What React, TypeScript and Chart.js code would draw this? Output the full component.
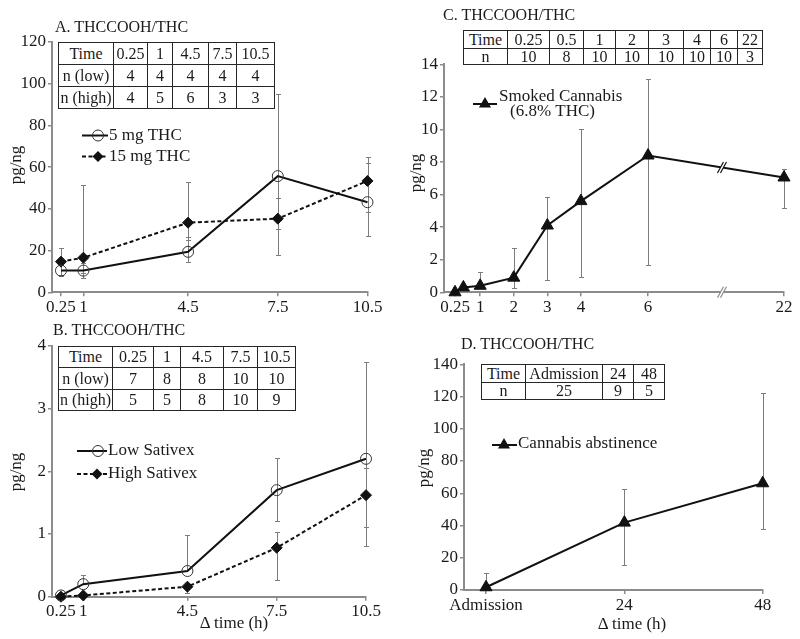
import React, { useEffect, useRef } from "react";
import { Chart, registerables } from "chart.js";

Chart.register(...registerables);

const SERIF = "'Liberation Serif', 'Times New Roman', Times, serif";
const AXIS_COLOR = "#8c8c8c";
const ERR_COLOR = "#7c7c7c";
const INK = "#1a1a1a";

// ---------------- Panel A data ----------------
const aTimes = [0.25, 1, 4.5, 7.5, 10.5];
const aTickLabels = ["0.25", "1", "4.5", "7.5", "10.5"];
const a5mg = [10.4, 10.4, 19.4, 55.7, 43.2];
const a5mgLo = [7.8, 6.7, 14.7, 17.9, 27.0];
const a5mgHi = [13.0, 14.0, 26.7, 95.0, 61.9];
const a15mg = [14.7, 16.6, 33.4, 35.3, 53.4];
const a15mgLo = [8.5, 9.4, 25.0, 30.2, 38.4];
const a15mgHi = [21.1, 51.5, 53.0, 45.0, 64.8];
const aTable = [
  ["Time", "0.25", "1", "4.5", "7.5", "10.5"],
  ["n (low)", "4", "4", "4", "4", "4"],
  ["n (high)", "4", "5", "6", "3", "3"],
];

// ---------------- Panel B data ----------------
const bTimes = [0.25, 1, 4.5, 7.5, 10.5];
const bTickLabels = ["0.25", "1", "4.5", "7.5", "10.5"];
const bLow = [0.02, 0.2, 0.41, 1.7, 2.2];
const bLowLo = [null, null, null, 1.2, 1.11];
const bLowHi = [null, 0.35, 0.99, 2.22, 3.75];
const bHigh = [0.0, 0.02, 0.16, 0.78, 1.62];
const bHighLo = [null, null, 0.06, 0.27, 0.81];
const bHighHi = [null, null, null, 1.04, 2.05];
const bTable = [
  ["Time", "0.25", "1", "4.5", "7.5", "10.5"],
  ["n (low)", "7", "8", "8", "10", "10"],
  ["n (high)", "5", "5", "8", "10", "9"],
];

// ---------------- Panel C data ----------------
const cTimes = [0.25, 0.5, 1, 2, 3, 4, 6, 22];
const cTickTimes = [0.25, 1, 2, 3, 4, 6, 22];
const cTickLabels = ["0.25", "1", "2", "3", "4", "6", "22"];
const cSmoked = [0.0, 0.3, 0.4, 0.9, 4.1, 5.6, 8.4, 7.05];
const cLo = [null, null, null, 0.28, 0.76, 0.96, 1.68, 5.16];
const cHi = [null, null, 1.22, 2.7, 5.87, 10.05, 13.1, 7.6];
const cTable = [
  ["Time", "0.25", "0.5", "1", "2", "3", "4", "6", "22"],
  ["n", "10", "8", "10", "10", "10", "10", "10", "3"],
];
// broken time axis: 0-6 h linear, 6-22 h compressed
const C_SEG_END = 6;
const C_COMPRESSED = 4.05;
const C_BREAK_H = 14.7;
const cAxis = (h: number) =>
  h <= C_SEG_END ? h : C_SEG_END + ((h - C_SEG_END) * C_COMPRESSED) / (22 - C_SEG_END);

// ---------------- Panel D data ----------------
const dTimes = [0, 24, 48];
const dTickLabels = ["Admission", "24", "48"];
const dAbst = [1.7, 41.8, 66.2];
const dLo = [null, 15.5, 37.8];
const dHi = [10.3, 62.4, 122.0];
const dTable = [
  ["Time", "Admission", "24", "48"],
  ["n", "25", "9", "5"],
];

type Marker = "circle" | "diamond" | "triangle";
type Series = {
  name: string[];
  x: number[];
  y: number[];
  lo: (number | null)[];
  hi: (number | null)[];
  marker: Marker;
  dashed: boolean;
};
type LegendRow = { y: number; x0: number; x1: number; mx: number; tx: number; lines: { text: string; x: number; y: number }[] };
type Spec = {
  id: string;
  canvas: [number, number, number, number];
  area: [number, number, number, number];
  xMin: number;
  xMax: number;
  xTicks: number[];
  xLabels: string[];
  mapX: (v: number) => number;
  yMax: number;
  yStep: number;
  series: Series[];
  legend: LegendRow[];
  breakAt?: number;
};

const ident = (v: number) => v;

const specs: Spec[] = [
  {
    id: "A",
    canvas: [0, 0, 400, 320],
    area: [52, 42, 367.5, 292.3],
    xMin: -0.05,
    xMax: 10.5,
    xTicks: aTimes,
    xLabels: aTickLabels,
    mapX: ident,
    yMax: 120,
    yStep: 20,
    series: [
      { name: ["5 mg THC"], x: aTimes, y: a5mg, lo: a5mgLo, hi: a5mgHi, marker: "circle", dashed: false },
      { name: ["15 mg THC"], x: aTimes, y: a15mg, lo: a15mgLo, hi: a15mgHi, marker: "diamond", dashed: true },
    ],
    legend: [
      { y: 135.5, x0: 82, x1: 108, mx: 98, tx: 109, lines: [{ text: "5 mg THC", x: 109, y: 135.5 }] },
      { y: 156.5, x0: 82, x1: 108, mx: 98, tx: 109, lines: [{ text: "15 mg THC", x: 109, y: 156.5 }] },
    ],
  },
  {
    id: "B",
    canvas: [0, 320, 400, 319],
    area: [52, 346, 366, 596.7],
    xMin: -0.05,
    xMax: 10.5,
    xTicks: bTimes,
    xLabels: bTickLabels,
    mapX: ident,
    yMax: 4,
    yStep: 1,
    series: [
      { name: ["Low Sativex"], x: bTimes, y: bLow, lo: bLowLo, hi: bLowHi, marker: "circle", dashed: false },
      { name: ["High Sativex"], x: bTimes, y: bHigh, lo: bHighLo, hi: bHighHi, marker: "diamond", dashed: true },
    ],
    legend: [
      { y: 451, x0: 77, x1: 107, mx: 98, tx: 108, lines: [{ text: "Low Sativex", x: 108, y: 451 }] },
      { y: 474, x0: 77, x1: 107, mx: 97, tx: 108, lines: [{ text: "High Sativex", x: 108, y: 474 }] },
    ],
  },
  {
    id: "C",
    canvas: [400, 0, 400, 320],
    area: [444, 64.3, 784, 292.3],
    xMin: -0.078,
    xMax: cAxis(22),
    xTicks: cTickTimes.map(cAxis),
    xLabels: cTickLabels,
    mapX: cAxis,
    yMax: 14,
    yStep: 2,
    series: [
      { name: ["Smoked Cannabis", "(6.8% THC)"], x: cTimes, y: cSmoked, lo: cLo, hi: cHi, marker: "triangle", dashed: false },
    ],
    legend: [
      {
        y: 104,
        x0: 473,
        x1: 497,
        mx: 485,
        tx: 499,
        lines: [
          { text: "Smoked Cannabis", x: 499, y: 97 },
          { text: "(6.8% THC)", x: 510, y: 111.5 },
        ],
      },
    ],
    breakAt: cAxis(C_BREAK_H),
  },
  {
    id: "D",
    canvas: [400, 320, 400, 319],
    area: [464, 364.3, 762.7, 590],
    xMin: -3.82,
    xMax: 48,
    xTicks: dTimes,
    xLabels: dTickLabels,
    mapX: ident,
    yMax: 140,
    yStep: 20,
    series: [
      { name: ["Cannabis abstinence"], x: dTimes, y: dAbst, lo: dLo, hi: dHi, marker: "triangle", dashed: false },
    ],
    legend: [
      { y: 445, x0: 492, x1: 517, mx: 504, tx: 518, lines: [{ text: "Cannabis abstinence", x: 518, y: 444 }] },
    ],
  },
];

const markerRadius = (m: Marker) => (m === "triangle" ? 7 : 5.5);

function drawMarker(ctx: CanvasRenderingContext2D, m: Marker, x: number, y: number) {
  const r = markerRadius(m);
  ctx.save();
  ctx.beginPath();
  if (m === "circle") {
    ctx.arc(x, y, r, 0, Math.PI * 2);
    ctx.strokeStyle = "#333";
    ctx.lineWidth = 1;
    ctx.stroke();
  } else if (m === "diamond") {
    ctx.moveTo(x - r, y);
    ctx.lineTo(x, y - r);
    ctx.lineTo(x + r, y);
    ctx.lineTo(x, y + r);
    ctx.closePath();
    ctx.fillStyle = "#111";
    ctx.fill();
  } else {
    const s = Math.sin((2 * Math.PI) / 3) * r;
    ctx.moveTo(x, y - r);
    ctx.lineTo(x + s, y + r / 2);
    ctx.lineTo(x - s, y + r / 2);
    ctx.closePath();
    ctx.fillStyle = "#111";
    ctx.fill();
  }
  ctx.restore();
}

function drawBreak(ctx: CanvasRenderingContext2D, x: number, y: number, color: string) {
  const dx = 3;
  const dy = 5.5;
  const gap = 3;
  ctx.save();
  ctx.fillStyle = "#fff";
  ctx.beginPath();
  ctx.moveTo(x - gap / 2 - dx, y + dy);
  ctx.lineTo(x - gap / 2 + dx, y - dy);
  ctx.lineTo(x + gap / 2 + dx, y - dy);
  ctx.lineTo(x + gap / 2 - dx, y + dy);
  ctx.closePath();
  ctx.fill();
  ctx.strokeStyle = color;
  ctx.lineWidth = 1.2;
  for (const o of [-gap / 2, gap / 2]) {
    ctx.beginPath();
    ctx.moveTo(x + o - dx, y + dy);
    ctx.lineTo(x + o + dx, y - dy);
    ctx.stroke();
  }
  ctx.restore();
}

function PanelChart({ spec }: { spec: Spec }) {
  const ref = useRef<HTMLCanvasElement | null>(null);
  useEffect(() => {
    const canvas = ref.current;
    if (!canvas) return;
    const [cl, ct, cw, ch] = spec.canvas;
    const [L, T, R, B] = spec.area;
    const yW = L - cl;
    const padT = T - ct;
    const padR = cl + cw - R;
    const xH = ct + ch - B;

    const errPlugin = {
      id: "errbars" + spec.id,
      beforeDatasetsDraw(chart: any) {
        const ctx = chart.ctx as CanvasRenderingContext2D;
        const xs = chart.scales.x;
        const ys = chart.scales.y;
        ctx.save();
        ctx.strokeStyle = ERR_COLOR;
        ctx.lineWidth = 1;
        spec.series.forEach((s) => {
          s.x.forEach((xv, i) => {
            const px = Math.round(xs.getPixelForValue(spec.mapX(xv))) + 0.5;
            const py = ys.getPixelForValue(s.y[i]);
            [s.lo[i], s.hi[i]].forEach((v) => {
              if (v == null) return;
              const pv = Math.round(ys.getPixelForValue(v)) + 0.5;
              ctx.beginPath();
              ctx.moveTo(px, py);
              ctx.lineTo(px, pv);
              ctx.moveTo(px - 2.5, pv);
              ctx.lineTo(px + 2.5, pv);
              ctx.stroke();
            });
          });
        });
        ctx.restore();
      },
    };

    const decoPlugin = {
      id: "deco" + spec.id,
      afterDraw(chart: any) {
        const ctx = chart.ctx as CanvasRenderingContext2D;
        // broken axis marks
        if (spec.breakAt != null) {
          const xs = chart.scales.x;
          const bx = xs.getPixelForValue(spec.breakAt);
          drawBreak(ctx, bx, chart.chartArea.bottom, AXIS_COLOR);
          const meta = chart.getDatasetMeta(0);
          const pts = meta.data;
          for (let i = 0; i < pts.length - 1; i++) {
            const p0 = pts[i];
            const p1 = pts[i + 1];
            if (p0.x <= bx && p1.x >= bx) {
              const t = (bx - p0.x) / (p1.x - p0.x);
              drawBreak(ctx, bx, p0.y + t * (p1.y - p0.y), "#111");
            }
          }
        }
        // legend
        spec.legend.forEach((row, k) => {
          const s = spec.series[k];
          const y = row.y - ct;
          ctx.save();
          ctx.strokeStyle = "#111";
          ctx.lineWidth = 2;
          ctx.setLineDash(s.dashed ? [4, 2.5] : []);
          ctx.beginPath();
          ctx.moveTo(row.x0 - cl, y);
          ctx.lineTo(row.x1 - cl, y);
          ctx.stroke();
          ctx.restore();
          drawMarker(ctx, s.marker, row.mx - cl, y);
          ctx.save();
          ctx.fillStyle = INK;
          ctx.font = `17px ${SERIF}`;
          ctx.textAlign = "left";
          ctx.textBaseline = "middle";
          row.lines.forEach((ln) => ctx.fillText(ln.text, ln.x - cl, ln.y - ct));
          ctx.restore();
        });
      },
    };

    const chart = new Chart(canvas, {
      type: "line",
      data: {
        datasets: spec.series.map((s) => ({
          label: s.name.join(" "),
          data: s.x.map((xv, i) => ({ x: spec.mapX(xv), y: s.y[i] })),
          borderColor: "#111",
          borderWidth: 2,
          borderDash: s.dashed ? [4, 2.5] : [],
          pointStyle: s.marker === "circle" ? "circle" : s.marker === "diamond" ? "rectRot" : "triangle",
          pointRadius: markerRadius(s.marker),
          pointBackgroundColor: s.marker === "circle" ? "rgba(0,0,0,0)" : "#111",
          pointBorderColor: s.marker === "circle" ? "#333" : "#111",
          pointBorderWidth: 1,
          tension: 0,
          fill: false,
          clip: false as any,
        })),
      },
      options: {
        responsive: false,
        animation: false,
        devicePixelRatio: 1,
        events: [],
        layout: { padding: { left: 0, top: padT, right: padR, bottom: 0 } },
        plugins: {
          legend: { display: false },
          tooltip: { enabled: false },
          title: { display: false },
        },
        scales: {
          x: {
            type: "linear",
            min: spec.xMin,
            max: spec.xMax,
            afterBuildTicks: (sc: any) => {
              sc.ticks = spec.xTicks.map((v) => ({ value: v }));
            },
            afterFit: (sc: any) => {
              sc.height = xH;
            },
            ticks: {
              autoSkip: false,
              maxRotation: 0,
              minRotation: 0,
              padding: 1,
              color: INK,
              font: { family: SERIF, size: 17 },
              callback: (_v: any, i: number) => spec.xLabels[i],
            },
            grid: {
              display: true,
              drawOnChartArea: false,
              drawTicks: true,
              tickLength: 4,
              color: AXIS_COLOR,
              lineWidth: 1.5,
            },
            border: { display: true, color: AXIS_COLOR, width: 2 },
          },
          y: {
            type: "linear",
            min: 0,
            max: spec.yMax,
            grace: 0,
            afterFit: (sc: any) => {
              sc.width = yW;
            },
            ticks: {
              stepSize: spec.yStep,
              padding: 2,
              color: INK,
              font: { family: SERIF, size: 17 },
            },
            grid: {
              display: true,
              drawOnChartArea: false,
              drawTicks: true,
              tickLength: 4,
              color: AXIS_COLOR,
              lineWidth: 1.5,
            },
            border: { display: true, color: AXIS_COLOR, width: 2 },
          },
        },
      } as any,
      plugins: [errPlugin, decoPlugin],
    });
    return () => chart.destroy();
  }, [spec]);

  const [cl, ct, cw, ch] = spec.canvas;
  return (
    <canvas
      ref={ref}
      width={cw}
      height={ch}
      style={{ position: "absolute", left: cl, top: ct, width: cw, height: ch }}
    />
  );
}

function GridTable({ cols, rows, cells, size = 16 }: { cols: number[]; rows: number[]; cells: string[][]; size?: number }) {
  const out: React.ReactNode[] = [];
  cells.forEach((row, r) =>
    row.forEach((txt, c) => {
      out.push(
        <div
          key={`${r}-${c}`}
          style={{
            position: "absolute",
            left: cols[c],
            top: rows[r],
            width: cols[c + 1] - cols[c] + 1,
            height: rows[r + 1] - rows[r] + 1,
            border: "1px solid #262626",
            boxSizing: "border-box",
            background: "#fff",
            display: "flex",
            alignItems: "center",
            justifyContent: "center",
            fontSize: size,
            lineHeight: 1,
            whiteSpace: "nowrap",
            color: INK,
          }}
        >
          {txt}
        </div>
      );
    })
  );
  return <>{out}</>;
}

function Text({ x, y, text, size = 16, align = "left", rotate = false }: { x: number; y: number; text: string; size?: number; align?: "left" | "center"; rotate?: boolean }) {
  const tf = rotate
    ? "translate(-50%, -50%) rotate(-90deg)"
    : align === "center"
    ? "translate(-50%, -50%)"
    : "translate(0, -50%)";
  return (
    <div
      style={{
        position: "absolute",
        left: x,
        top: y,
        transform: tf,
        fontSize: size,
        lineHeight: 1,
        whiteSpace: "nowrap",
        color: INK,
      }}
    >
      {text}
    </div>
  );
}

export default function App() {
  return (
    <div
      style={{
        position: "absolute",
        left: 0,
        top: 0,
        width: 800,
        height: 639,
        background: "#fff",
        overflow: "hidden",
        fontFamily: SERIF,
      }}
    >
      {specs.map((s) => (
        <PanelChart key={s.id} spec={s} />
      ))}

      <Text x={55} y={26.7} text="A. THCCOOH/THC" />
      <Text x={53} y={330} text="B. THCCOOH/THC" />
      <Text x={443} y={14.5} text="C. THCCOOH/THC" />
      <Text x={461} y={344} text="D. THCCOOH/THC" />

      <Text x={15} y={165} text="pg/ng" size={17} rotate />
      <Text x={15} y={472} text="pg/ng" size={17} rotate />
      <Text x={415} y={173} text="pg/ng" size={17} rotate />
      <Text x={423} y={468} text="pg/ng" size={17} rotate />

      <Text x={234} y={622} text="Δ time (h)" size={17} align="center" />
      <Text x={632} y={623} text="Δ time (h)" size={17} align="center" />

      <GridTable cols={[58, 113, 147, 172, 208, 236, 274]} rows={[42, 64, 86, 108]} cells={aTable} />
      <GridTable cols={[58, 112, 153, 180, 223, 257, 295]} rows={[346, 367, 389, 410]} cells={bTable} />
      <GridTable cols={[463, 507, 549, 583, 615, 648, 683, 710, 737, 762]} rows={[30, 48, 64]} cells={cTable} />
      <GridTable cols={[481, 525, 602, 633, 664]} rows={[364, 382, 399]} cells={dTable} />
    </div>
  );
}
